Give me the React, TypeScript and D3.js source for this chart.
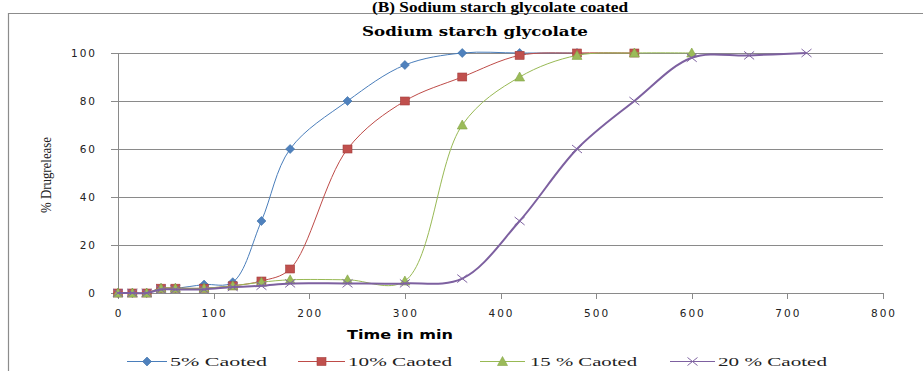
import React from "react";
import * as d3 from "d3";

const times = [0, 15, 30, 45, 60, 90, 120, 150, 180, 240, 300, 360, 420, 480, 540, 600, 660, 720];
const s5 = [0, 0, 0, 2, 2, 3.5, 4.5, 30, 60, 80, 95, 100, 100, 100];
const s10 = [0, 0, 0, 2, 2, 2, 3, 5, 10, 60, 80, 90, 99, 100, 100];
const s15 = [0, 0, 0, 2, 2, 2, 3, 4.5, 5.5, 5.5, 5, 70, 90, 99, 100, 100];
const s20 = [0, 0, 0, 1.5, 1.5, 1.5, 2.5, 3, 4, 4, 4, 6, 30, 60, 80, 98, 99, 100];
const seriesNames = ["5% Caoted", "10% Caoted", "15 % Caoted", "20 % Caoted"];
const xTicks = [0, 100, 200, 300, 400, 500, 600, 700, 800];
const yTicks = [0, 20, 40, 60, 80, 100];

const W = 923, H = 371;
const x = d3.scaleLinear().domain([0, 800]).range([118, 883]);
const y = d3.scaleLinear().domain([0, 100]).range([293, 53]);

const styles = [
  { line: "#4A7EBB", fill: "#4F81BD", marker: "diamond", width: 1 },
  { line: "#BE4B48", fill: "#C0504D", marker: "square", width: 1 },
  { line: "#98B954", fill: "#9BBB59", marker: "triangle", width: 1 },
  { line: "#7D60A0", fill: "#8064A2", marker: "cross", width: 2 },
];
const legendPos = [
  { x1: 127, x2: 167, tx: 170, tl: 97 },
  { x1: 298, x2: 345, tx: 348, tl: 104 },
  { x1: 480, x2: 525, tx: 530, tl: 107 },
  { x1: 670, x2: 715, tx: 718, tl: 109 },
];

function Marker({ kind, cx, cy, fill }: { kind: string; cx: number; cy: number; fill: string }) {
  if (kind === "diamond")
    return <path d={`M${cx},${cy - 4.5}L${cx + 4.5},${cy}L${cx},${cy + 4.5}L${cx - 4.5},${cy}Z`} fill={fill} stroke="#3A6EA8" strokeWidth={0.6} />;
  if (kind === "square")
    return <rect x={cx - 4.5} y={cy - 4} width={9} height={8} fill={fill} stroke="#A33F3C" strokeWidth={0.6} />;
  if (kind === "triangle")
    return <path d={`M${cx},${cy - 5}L${cx + 5},${cy + 4}L${cx - 5},${cy + 4}Z`} fill={fill} stroke="#84A546" strokeWidth={0.6} />;
  return (
    <path d={`M${cx - 5},${cy - 4}L${cx + 5},${cy + 4}M${cx - 5},${cy + 4}L${cx + 5},${cy - 4}`} stroke={fill} strokeWidth={1} fill="none" />
  );
}

export default function App() {
  const all = [s5, s10, s15, s20];
  const line = d3
    .line<[number, number]>()
    .x((d) => x(d[0]))
    .y((d) => y(d[1]))
    .curve(d3.curveCatmullRom.alpha(0.5));
  const tickFont = "'DejaVu Sans', sans-serif";
  return (
    <svg width={W} height={H} style={{ position: "absolute", left: 0, top: 0, background: "#fff" }}>
      <rect x={0} y={0} width={W} height={H} fill="#fff" />
      {/* frame */}
      <line x1={8.5} y1={13} x2={8.5} y2={H} stroke="#8c8c8c" strokeWidth={1.2} />
      <line x1={8} y1={13.5} x2={W} y2={13.5} stroke="#8c8c8c" strokeWidth={1.2} />
      {/* top title */}
      <text x={500} y={11.5} textAnchor="middle" fontFamily="'Liberation Serif', serif" fontWeight="bold" fontSize={14} textLength={256} lengthAdjust="spacingAndGlyphs">
        (B) Sodium starch glycolate coated
      </text>
      <text x={475} y={36} textAnchor="middle" fontFamily="'DejaVu Serif', serif" fontWeight="bold" fontSize={12} textLength={226} lengthAdjust="spacingAndGlyphs">
        Sodium starch glycolate
      </text>
      {/* gridlines */}
      {yTicks.map((t) => (
        <g key={"g" + t}>
          {t > 0 && <line x1={118} x2={883} y1={Math.round(y(t)) + 0.5} y2={Math.round(y(t)) + 0.5} stroke="#8a8a8a" strokeWidth={1} />}
          <line x1={111} x2={118} y1={Math.round(y(t)) + 0.5} y2={Math.round(y(t)) + 0.5} stroke="#8a8a8a" strokeWidth={1} />
          <text x={97} y={y(t) + 4} textAnchor="end" fontFamily={tickFont} fontSize={10.5} letterSpacing={2} fill="#222">
            {t}
          </text>
        </g>
      ))}
      {/* axes */}
      <line x1={118.5} x2={118.5} y1={53} y2={293} stroke="#8a8a8a" strokeWidth={1} />
      <line x1={118} x2={883} y1={293.5} y2={293.5} stroke="#8a8a8a" strokeWidth={1} />
      {xTicks.map((t) => (
        <g key={"x" + t}>
          <line x1={Math.round(x(t)) + 0.5} x2={Math.round(x(t)) + 0.5} y1={293} y2={299} stroke="#8a8a8a" strokeWidth={1} />
          <text x={x(t) + 1} y={317} textAnchor="middle" fontFamily={tickFont} fontSize={10.5} letterSpacing={2} fill="#222">
            {t}
          </text>
        </g>
      ))}
      {/* axis titles */}
      <text x={400} y={339} textAnchor="middle" fontFamily="'DejaVu Sans', sans-serif" fontWeight="bold" fontSize={12} textLength={106} lengthAdjust="spacingAndGlyphs">
        Time in min
      </text>
      <text transform="translate(51,175) rotate(-90)" textAnchor="middle" fontFamily="'Liberation Serif', serif" fontSize={14} textLength={76} lengthAdjust="spacingAndGlyphs" fill="#222">
        % Drugrelease
      </text>
      {/* series */}
      {all.map((s, i) => {
        const pts: [number, number][] = s.map((v, j) => [times[j], v]);
        return (
          <g key={"s" + i}>
            <path d={line(pts) || ""} fill="none" stroke={styles[i].line} strokeWidth={styles[i].width} />
            {pts.map((p, j) => (
              <Marker key={j} kind={styles[i].marker} cx={x(p[0])} cy={y(p[1])} fill={styles[i].fill} />
            ))}
          </g>
        );
      })}
      {/* legend */}
      {seriesNames.map((n, i) => {
        const L = legendPos[i];
        return (
          <g key={"l" + i}>
            <line x1={L.x1} x2={L.x2} y1={361.5} y2={361.5} stroke={styles[i].line} strokeWidth={1} />
            <Marker kind={styles[i].marker} cx={(L.x1 + L.x2) / 2} cy={361.5} fill={styles[i].fill} />
            <text x={L.tx} y={366} fontFamily="'Liberation Serif', serif" fontSize={13} textLength={L.tl} lengthAdjust="spacingAndGlyphs" fill="#222">
              {n}
            </text>
          </g>
        );
      })}
    </svg>
  );
}
